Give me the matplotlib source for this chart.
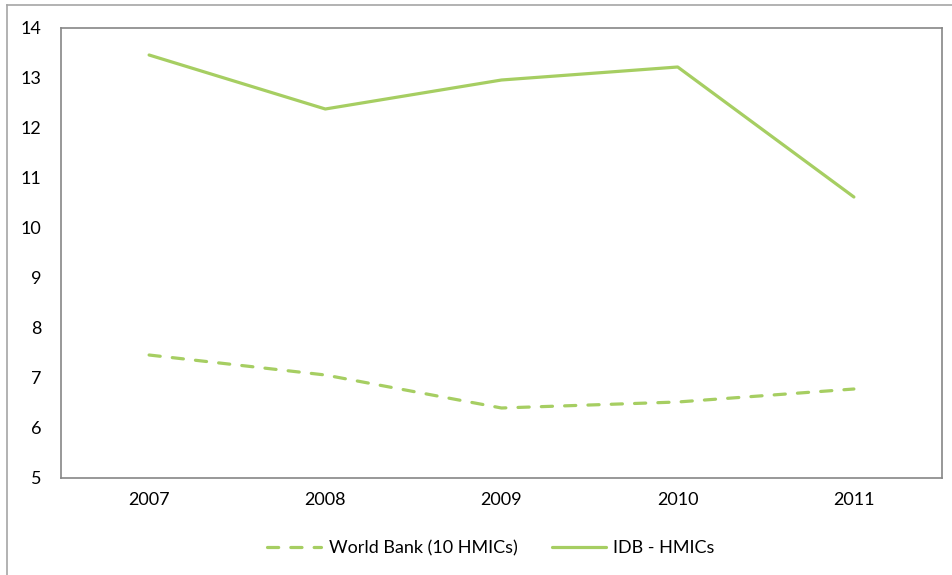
import matplotlib.pyplot as plt
from matplotlib.lines import Line2D

years = ["2007", "2008", "2009", "2010", "2011"]
world_bank = [7.46, 7.06, 6.40, 6.52, 6.78]
idb = [13.46, 12.38, 12.96, 13.22, 10.62]
y_ticks = [5, 6, 7, 8, 9, 10, 11, 12, 13, 14]

green = "#A6CE62"
plt.rcParams["font.family"] = ["Lato", "DejaVu Sans"]

fig = plt.figure(figsize=(9.53, 5.75), dpi=100)
ax = fig.add_axes([61 / 953, 1 - 478 / 575, 881 / 953, 450 / 575])

x = range(len(years))
ax.plot(x, world_bank, color=green, lw=2.3, dashes=(3.5, 3.8),
        dash_capstyle="round", label="World Bank (10 HMICs)")
ax.plot(x, idb, color=green, lw=2.3, solid_capstyle="round",
        label="IDB - HMICs")

ax.set_xlim(-0.5, 4.5)
ax.set_ylim(5, 14)
ax.set_xticks(list(x))
ax.set_xticklabels(years)
ax.set_yticks(y_ticks)
ax.tick_params(length=0, labelsize=13, pad=10)
ax.tick_params(axis="y", pad=14)
for s in ax.spines.values():
    s.set_color("#868686")
    s.set_linewidth(1.2)

fig.legend(loc="center", bbox_to_anchor=(0.515, 1 - 548 / 575), ncol=2,
           frameon=False, fontsize=13, handlelength=3.0, columnspacing=1.9,
           handletextpad=0.4)

# outer chart border (left and top)
fig.add_artist(Line2D([7.5 / 953, 7.5 / 953], [0, 1 - 5 / 575],
                      transform=fig.transFigure, color="#A6A6A6", lw=1.2))
fig.add_artist(Line2D([7.5 / 953, 1], [1 - 5 / 575, 1 - 5 / 575],
                      transform=fig.transFigure, color="#A6A6A6", lw=1.2))

fig.savefig("out.png", dpi=100)
